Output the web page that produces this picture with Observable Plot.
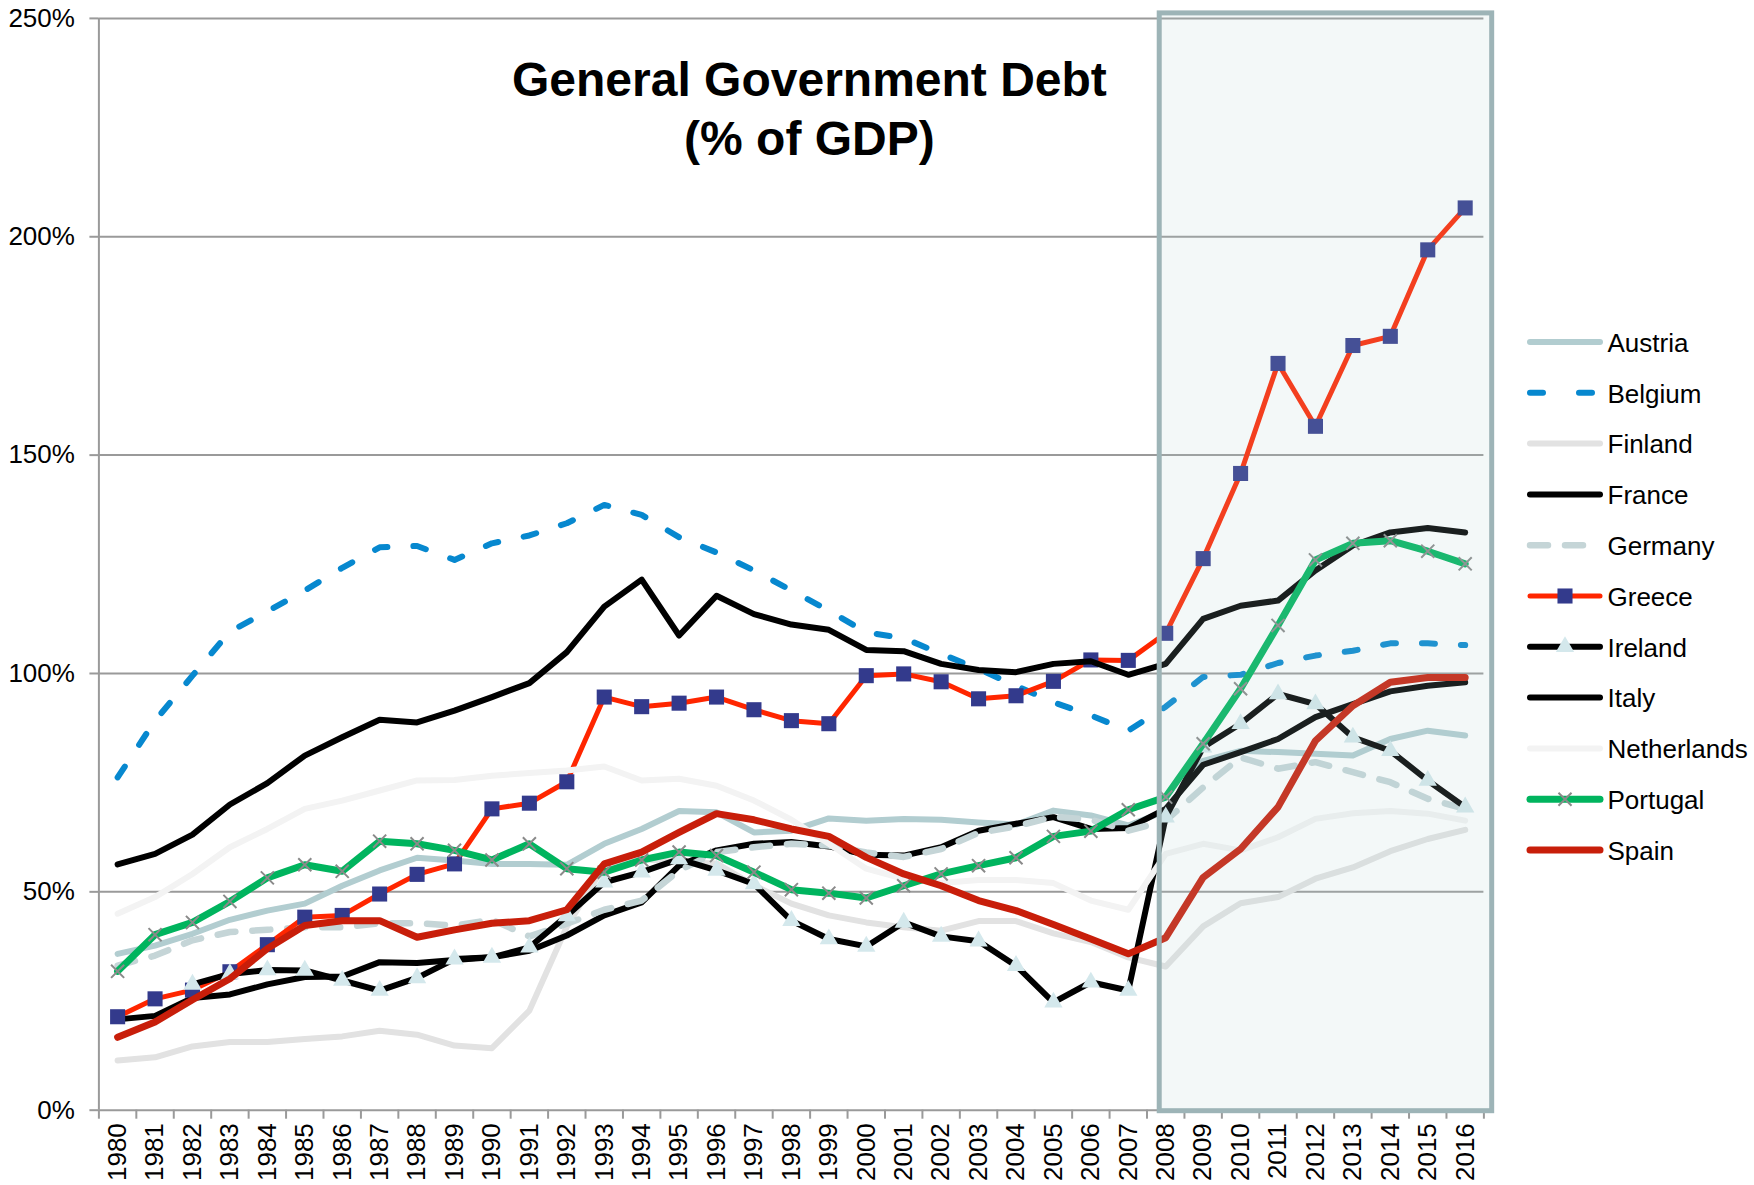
<!DOCTYPE html>
<html><head><meta charset="utf-8">
<script src="https://cdn.jsdelivr.net/npm/d3@7"></script>
<script src="https://cdn.jsdelivr.net/npm/@observablehq/plot@0.6"></script>
<style>
body{margin:0;background:#fff;}
#wrap{position:relative;width:1754px;height:1185px;overflow:hidden;font-family:"Liberation Sans",Arial,sans-serif;}
#chart{position:absolute;left:0;top:0;}
#legend{position:absolute;left:1520px;top:312px;}
</style></head>
<body><div id="wrap"><div id="chart"></div><svg id="legend"></svg></div>
<script>
const years = [1980,1981,1982,1983,1984,1985,1986,1987,1988,1989,1990,1991,1992,1993,1994,1995,1996,1997,1998,1999,2000,2001,2002,2003,2004,2005,2006,2007,2008,2009,2010,2011,2012,2013,2014,2015,2016];
const yTicks = [0,50,100,150,200,250];
const countries = ["Austria","Belgium","Finland","France","Germany","Greece","Ireland","Italy","Netherlands","Portugal","Spain"];
const titleText = "General Government Debt\n(% of GDP)";
const shade = {from: 2008, to: 2016};

const austria = [35.8,37.7,40.4,43.6,45.7,47.3,51.4,54.9,57.8,57.2,56.4,56.4,56.2,61.0,64.4,68.5,68.2,63.6,64.0,66.8,66.3,66.7,66.5,65.9,65.4,68.6,67.5,65.2,68.5,80.0,82.3,82.0,81.6,81.2,85.0,86.9,85.8];
const belgium = [76.2,89.2,99.5,109.6,114.2,119.0,124.2,128.9,129.2,126.0,129.8,131.6,134.4,138.6,136.3,131.2,127.7,123.6,119.0,114.4,109.4,108.1,104.5,101.0,97.2,93.4,90.4,86.9,92.4,99.2,99.7,102.4,104.1,105.2,106.9,106.9,106.5];
const finland = [11.4,12.1,14.6,15.6,15.6,16.3,16.9,18.2,17.3,14.8,14.2,22.8,42.0,56.0,57.5,56.8,56.5,51.5,47.3,44.6,43.0,41.9,41.1,43.3,43.3,40.5,38.5,35.0,32.9,42.1,47.4,48.8,53.0,55.6,59.3,62.1,64.2];
const france = [20.8,21.6,25.7,26.5,28.8,30.5,30.6,33.9,33.7,34.4,35.0,36.5,40.0,44.6,47.6,56.0,59.5,61.0,61.4,60.4,58.5,58.3,60.2,64.0,65.6,67.1,64.4,64.6,69.0,79.1,82.0,85.0,90.0,93.0,95.9,97.2,98.0];
const germany = [33.1,35.4,38.9,40.8,41.3,41.9,41.9,42.8,42.8,42.3,43.6,39.8,42.7,45.9,48.0,54.9,59.1,60.2,61.0,60.6,59.0,58.0,59.8,63.5,65.0,67.2,66.5,64.0,66.3,73.9,80.8,78.2,79.7,77.4,75.1,71.3,69.0];
const greece = [21.4,25.5,27.5,31.7,37.9,44.2,44.6,49.5,54.0,56.4,69.0,70.3,75.2,94.6,92.4,93.2,94.6,91.7,89.2,88.5,99.5,99.9,98.1,94.2,94.9,98.2,103.1,103.0,109.2,126.3,145.8,171.0,156.6,175.1,177.2,197.0,206.6];
const ireland = [null,null,28.8,31.2,32.1,32.0,29.7,27.4,30.3,34.6,35.0,37.3,44.5,52.2,54.5,57.5,54.9,51.8,43.4,39.2,37.5,43.0,39.8,38.7,33.1,24.7,29.3,27.4,67.1,83.1,88.5,95.3,93.0,85.4,82.3,75.5,69.4];
const italy = [56.3,58.7,63.1,70.0,74.9,81.2,85.4,89.4,88.8,91.5,94.6,97.8,104.9,115.3,121.5,108.7,117.8,113.6,111.2,110.0,105.4,105.1,102.2,100.8,100.3,102.2,102.8,99.7,102.2,112.5,115.5,116.7,123.6,129.3,132.3,133.3,132.3];
const netherlands = [45.0,48.8,54.1,60.2,64.4,69.0,70.9,73.2,75.5,75.6,76.6,77.2,77.8,78.7,75.5,75.9,74.3,70.9,66.5,61.0,55.3,53.0,52.0,52.7,52.7,52.0,48.0,45.9,58.7,61.0,59.5,62.5,66.7,68.0,68.5,67.9,66.3];
const portugal = [31.8,40.2,43.0,47.8,53.2,56.2,54.7,61.6,61.0,59.5,57.3,61.0,55.3,54.5,57.3,59.1,58.3,54.5,50.5,49.7,48.6,51.4,54.1,56.0,57.8,62.7,63.9,68.8,71.7,83.9,96.5,111.0,126.0,129.8,130.4,128.0,125.1];
const spain = [16.7,20.2,25.3,30.1,37.0,42.3,43.4,43.4,39.6,41.3,42.8,43.4,45.9,56.4,59.1,63.6,67.9,66.5,64.4,62.7,57.9,54.1,51.4,48.0,45.7,42.5,39.2,35.8,39.5,53.3,59.8,69.4,84.6,92.6,98.0,99.1,99.1];

const seriesByName = {Austria: austria, Belgium: belgium, Finland: finland, France: france, Germany: germany, Greece: greece, Ireland: ireland, Italy: italy, Netherlands: netherlands, Portugal: portugal, Spain: spain};

const styles = {
  Austria:{stroke:"#b2cdd0", width:6},
  Belgium:{stroke:"#0788cf", width:6, dash:"13,26"},
  Finland:{stroke:"#e2e2e2", width:6},
  France:{stroke:"#000000", width:6},
  Germany:{stroke:"#c5d5d7", width:6.5, dash:"18,17"},
  Greece:{stroke:"#ff2600", width:5, marker:"square", mfill:"#333a8c", r:8.5},
  Ireland:{stroke:"#000000", width:6, marker:"triangle", mfill:"#d4e8ec", r:6.8},
  Italy:{stroke:"#000000", width:6},
  Netherlands:{stroke:"#f3f3f3", width:6},
  Portugal:{stroke:"#00b45e", width:7, marker:"times", mstroke:"#8a8a8a", r:6},
  Spain:{stroke:"#c81e0a", width:7}
};

const data = countries.flatMap(c => years.map((yr, i) => ({country: c, year: yr, value: seriesByName[c][i]})));
const bounds = years.map(y => y - 0.5).concat([years[years.length - 1] + 0.5]);

const marks = [
  Plot.gridY({ticks: yTicks, stroke: "#9a9a9a", strokeOpacity: 1, strokeWidth: 2}),
  Plot.ruleX([bounds[0]], {stroke: "#9a9a9a", strokeWidth: 2}),
  Plot.axisY({ticks: yTicks, tickFormat: d => d + "%", tickSize: 9, tickPadding: 15, fontSize: 26, stroke: "#9a9a9a", strokeWidth: 2, label: null}),
  Plot.axisX({ticks: bounds, tickSize: 9, tickFormat: () => "", stroke: "#9a9a9a", strokeWidth: 2, label: null}),
  Plot.axisX({ticks: years, tickSize: 0, tickPadding: 13, tickRotate: -90, tickFormat: d => String(d), fontSize: 26, label: null})
];

for (const c of countries) {
  const s = styles[c];
  const rows = data.filter(d => d.country === c && d.value != null);
  marks.push(Plot.lineY(rows, {x: "year", y: "value", stroke: s.stroke, strokeWidth: s.width,
    strokeDasharray: s.dash || null, strokeLinecap: "round", strokeLinejoin: "round"}));
  if (s.marker === "times") {
    marks.push(Plot.dot(rows, {x: "year", y: "value", symbol: "times", r: s.r, stroke: s.mstroke, strokeWidth: 2, fill: "none"}));
  } else if (s.marker) {
    marks.push(Plot.dot(rows, {x: "year", y: "value", symbol: s.marker, r: s.r, fill: s.mfill, stroke: null}));
  }
}

marks.push(
  Plot.rect([shade], {x1: "from", x2: "to", y1: () => yTicks[0], y2: () => yTicks[yTicks.length - 1],
    insetLeft: -6, insetRight: -27, insetTop: -5, insetBottom: -1,
    fill: "rgb(175,208,208)", fillOpacity: 0.15, stroke: "#9db4b7", strokeWidth: 5}),
  Plot.text([titleText], {text: d => d, frameAnchor: "top", dx: 18, dy: 36.5, fontSize: 48, fontWeight: "bold", lineHeight: 1.22, fill: "#000"})
);

const chart = Plot.plot({
  width: 1754,
  height: 1185,
  marginLeft: 98.4,
  marginRight: 270.6,
  marginTop: 17.9,
  marginBottom: 75.3,
  style: {fontFamily: '"Liberation Sans", Arial, sans-serif', color: "#000", background: "transparent", overflow: "visible"},
  x: {type: "linear", domain: [bounds[0], bounds[bounds.length - 1]]},
  y: {domain: [yTicks[0], yTicks[yTicks.length - 1]]},
  marks
});
document.getElementById("chart").appendChild(chart);

// Legend
const leg = d3.select("#legend").attr("width", 234).attr("height", 600);
countries.forEach((c, i) => {
  const s = styles[c];
  const g = leg.append("g").attr("transform", `translate(10, ${30 + i * 50.8})`);
  g.append("line").attr("x1", 0).attr("x2", 70).attr("y1", 0).attr("y2", 0)
    .attr("stroke", s.stroke).attr("stroke-width", s.width)
    .attr("stroke-linecap", "round")
    .attr("stroke-dasharray", s.dash ? (c === "Belgium" ? "13,36" : "18,17") : null);
  if (s.marker) {
    const typ = s.marker === "square" ? d3.symbolSquare : s.marker === "triangle" ? d3.symbolTriangle : d3.symbolTimes;
    const sym = d3.symbol(typ, Math.PI * s.r * s.r)();
    const p = g.append("path").attr("d", sym).attr("transform", "translate(35,0)");
    if (s.marker === "times") p.attr("fill", "none").attr("stroke", s.mstroke).attr("stroke-width", 2);
    else p.attr("fill", s.mfill);
  }
  g.append("text").attr("x", 77.5).attr("y", 3).attr("dominant-baseline", "middle")
    .attr("font-size", 26).attr("fill", "#000").text(c);
});
</script></body></html>
